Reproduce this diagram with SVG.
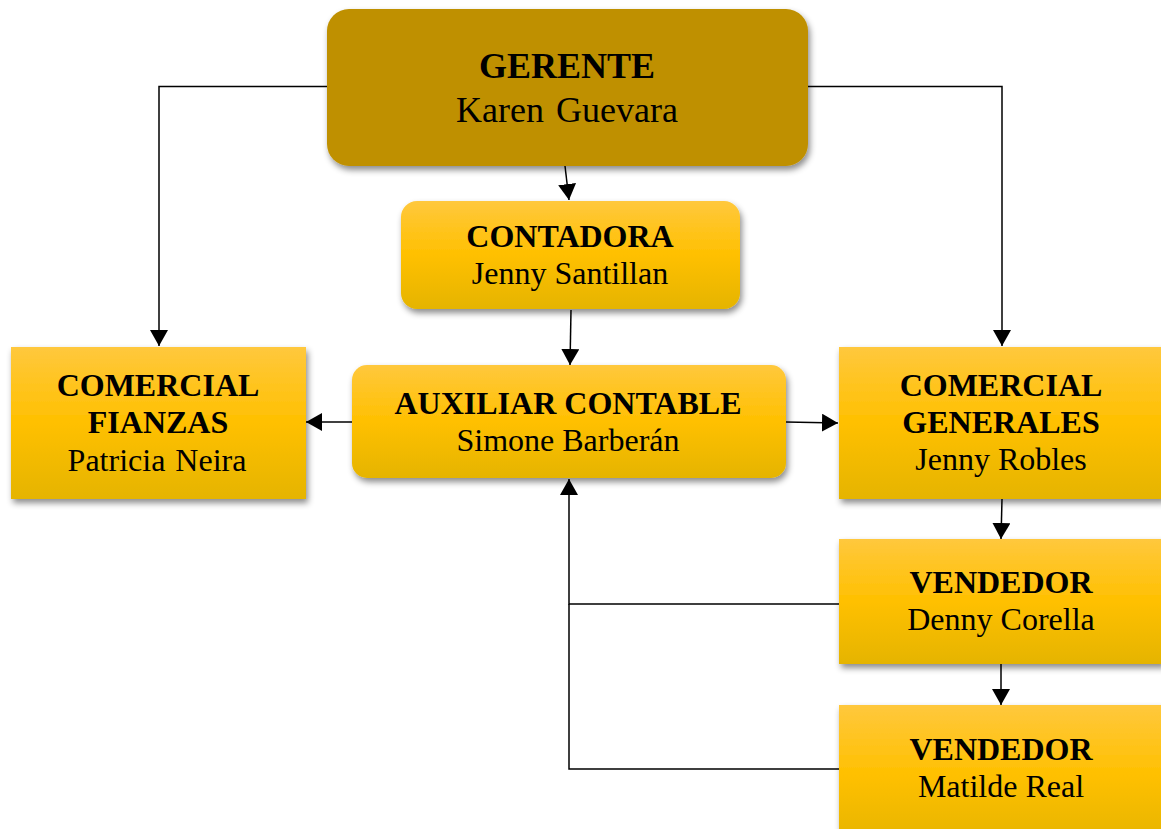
<svg xmlns="http://www.w3.org/2000/svg" width="1161" height="829" viewBox="0 0 1161 829">
  <defs>
    <style>
      .title { font-family: "Liberation Serif", "Times New Roman", serif; font-weight: bold; font-size: 32px; fill: #000; text-anchor: middle; }
      .name { font-family: "Liberation Serif", "Times New Roman", serif; font-size: 32px; fill: #000; text-anchor: middle; }
      .big { font-size: 36px; }
      .link { fill: none; stroke: #000; stroke-width: 1.5; }
      .arrow { marker-end: url(#head); }
      .box { fill: url(#gold); filter: url(#shadow); }
    </style>
    <linearGradient id="gold" x1="0" y1="0" x2="0" y2="1">
      <stop offset="0" stop-color="#FFC83D"/>
      <stop offset="0.5" stop-color="#FFC000"/>
      <stop offset="1" stop-color="#E5B400"/>
    </linearGradient>
    <filter id="shadow" x="-10%" y="-10%" width="125%" height="135%">
      <feDropShadow dx="2" dy="4" stdDeviation="3" flood-color="#000" flood-opacity="0.45"/>
    </filter>
    <marker id="head" viewBox="0 0 16 18" refX="16" refY="9" markerWidth="16" markerHeight="18" markerUnits="userSpaceOnUse" orient="auto">
      <path d="M0,0 L16,9 L0,18 Z" fill="#000"/>
    </marker>
  </defs>

  <rect width="1161" height="829" fill="#fff"/>

  <!-- connectors -->
  <g id="connectors">
    <polyline class="link arrow" points="327,86.5 159,86.5 159,346"/>
    <polyline class="link arrow" points="808,86.5 1002,86.5 1002,346"/>
    <line class="link arrow" x1="565" y1="166" x2="569" y2="200"/>
    <line class="link arrow" x1="571" y1="310" x2="570" y2="365"/>
    <line class="link arrow" x1="352" y1="422" x2="306" y2="422"/>
    <line class="link arrow" x1="786" y1="422" x2="838" y2="423"/>
    <line class="link arrow" x1="1002" y1="499" x2="1001" y2="539"/>
    <line class="link arrow" x1="1001" y1="664" x2="1001" y2="705"/>
    <polyline class="link arrow" points="839,604 569,604 569,479"/>
    <polyline class="link" points="839,769 569,769 569,604"/>
  </g>

  <g id="gerente">
    <rect x="327" y="9" width="481" height="157" rx="22" fill="#BF9000" filter="url(#shadow)"/>
    <text class="title big" x="567" y="78">GERENTE</text>
    <text class="name big" x="567" y="122" word-spacing="3">Karen Guevara</text>
  </g>

  <g id="contadora">
    <rect class="box" x="401" y="201" width="339" height="108" rx="16"/>
    <text class="title" x="570" y="247">CONTADORA</text>
    <text class="name" x="570" y="284">Jenny Santillan</text>
  </g>

  <g id="comercial-fianzas">
    <rect class="box" x="11" y="347" width="295" height="152"/>
    <text class="title" x="158" y="396">COMERCIAL</text>
    <text class="title" x="158" y="433">FIANZAS</text>
    <text class="name" x="157" y="471" word-spacing="2">Patricia Neira</text>
  </g>

  <g id="auxiliar-contable">
    <rect class="box" x="352" y="365" width="434" height="113" rx="15"/>
    <text class="title" x="568" y="414">AUXILIAR CONTABLE</text>
    <text class="name" x="568" y="451">Simone Barberán</text>
  </g>

  <g id="comercial-generales">
    <rect class="box" x="839" y="347" width="325" height="152"/>
    <text class="title" x="1001" y="396">COMERCIAL</text>
    <text class="title" x="1001" y="433">GENERALES</text>
    <text class="name" x="1001" y="470">Jenny Robles</text>
  </g>

  <g id="vendedor-corella">
    <rect class="box" x="839" y="539" width="325" height="125"/>
    <text class="title" x="1001" y="593">VENDEDOR</text>
    <text class="name" x="1001" y="630">Denny Corella</text>
  </g>

  <g id="vendedor-real">
    <rect class="box" x="839" y="705" width="325" height="140"/>
    <text class="title" x="1001" y="760">VENDEDOR</text>
    <text class="name" x="1001" y="797">Matilde Real</text>
  </g>
</svg>
